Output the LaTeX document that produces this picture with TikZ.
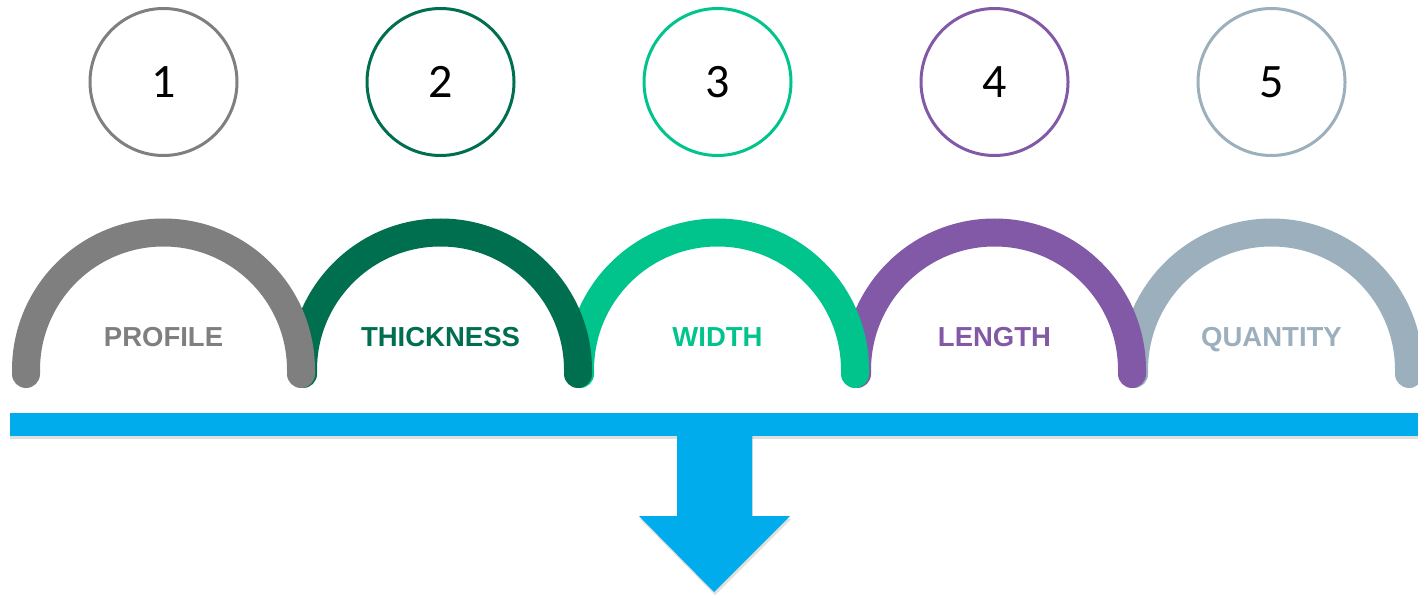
\documentclass[tikz,border=0pt]{standalone}
\usepackage{fontspec}
\setmainfont{Liberation Sans}
\newfontfamily\numfont{Carlito}
\usetikzlibrary{positioning, shadows}

\definecolor{stepgray}{HTML}{7F7F7F}
\definecolor{stepgreen}{HTML}{006F4F}
\definecolor{stepteal}{HTML}{00C48C}
\definecolor{steppurple}{HTML}{8259A6}
\definecolor{stepsteel}{HTML}{9BAFBD}
\definecolor{barblue}{HTML}{00ACEC}

\begin{document}
\begin{tikzpicture}[x=1pt, y=1pt, node distance=127pt,
  numcircle/.style={draw, circle, line width=3pt, minimum size=147pt, inner sep=0pt,
    font=\numfont\fontsize{48}{48}\selectfont},
  steplabel/.style={anchor=base, font=\bfseries\fontsize{27.5}{27.5}\selectfont},
  band/.style={line width=28pt, line cap=round}]
  \useasboundingbox (0,0) rectangle (1418,595);

  % numbered circles
  \node[numcircle, stepgray] (c1) at (163.5,513) {\textcolor{black}{1}};
  \node[numcircle, stepgreen, right=of c1] (c2) {\textcolor{black}{2}};
  \node[numcircle, stepteal, right=of c2] (c3) {\textcolor{black}{3}};
  \node[numcircle, steppurple, right=of c3] (c4) {\textcolor{black}{4}};
  \node[numcircle, stepsteel, right=of c4] (c5) {\textcolor{black}{5}};

  % arches, the first one on top
  \foreach \cx/\col in {1271.5/stepsteel, 994.5/steppurple, 717.5/stepteal, 440.5/stepgreen, 163.5/stepgray}
    \draw[band, \col] (\cx-137.5,221) -- (\cx-137.5,225) arc[start angle=180, end angle=0, radius=137.5] -- (\cx+137.5,221);

  \node[steplabel, text=stepgray] (l1) at (163.5,248) {PROFILE};
  \node[steplabel, text=stepgreen] (l2) at (440.5,248) {THICKNESS};
  \node[steplabel, text=stepteal] (l3) at (717.5,248) {WIDTH};
  \node[steplabel, text=steppurple] (l4) at (994.5,248) {LENGTH};
  \node[steplabel, text=stepsteel] (l5) at (1271.5,248) {QUANTITY};

  % bar and arrow
  \fill[barblue, drop shadow={opacity=0.25, shadow xshift=0pt, shadow yshift=-3pt}] (10,159) rectangle (1418,182);
  \fill[barblue, drop shadow={opacity=0.25, shadow xshift=1pt, shadow yshift=-3pt}]
    (677,170) -- (677,79) -- (639,79) -- (714,3) -- (790,79) -- (752,79) -- (752,170) -- cycle;
  \fill[barblue] (10,159) rectangle (1418,182);
\end{tikzpicture}
\end{document}
